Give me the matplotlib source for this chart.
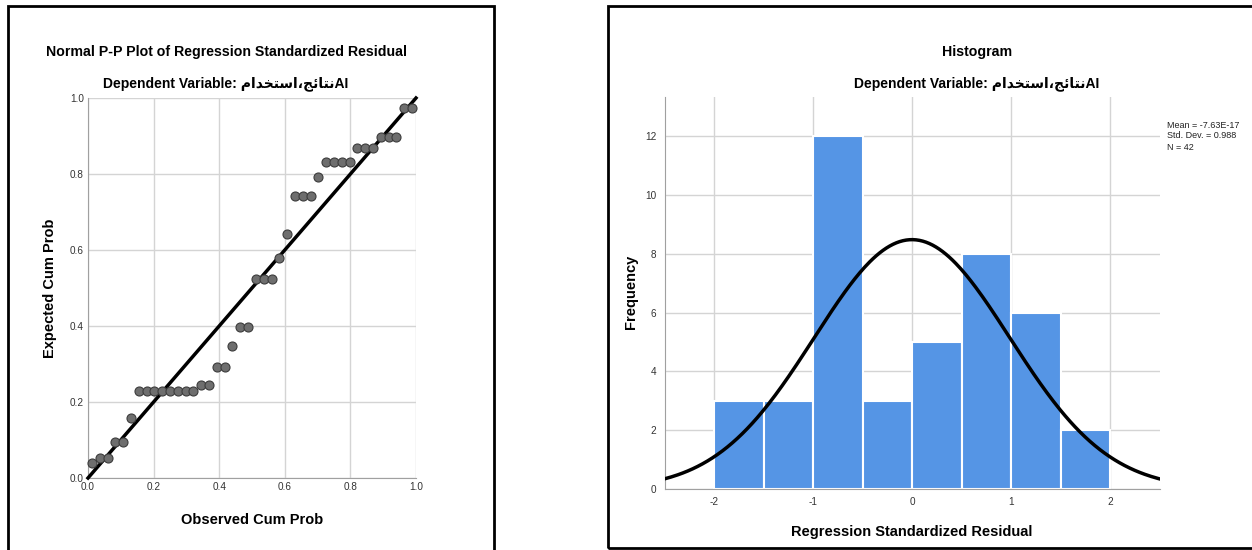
import numpy as np
import matplotlib
matplotlib.use("Agg")
import matplotlib.pyplot as plt
from matplotlib.patches import Rectangle

plt.rcParams['font.family'] = ['Liberation Sans', 'DejaVu Sans']
plt.rcParams['axes.unicode_minus'] = False

# P-P plot points (observed, expected cumulative probability)
observed = [0.012, 0.036, 0.060, 0.083, 0.107, 0.131, 0.155, 0.179, 0.202, 0.226,
            0.250, 0.274, 0.298, 0.321, 0.345, 0.369, 0.393, 0.417, 0.440, 0.464,
            0.488, 0.512, 0.536, 0.560, 0.583, 0.607, 0.631, 0.655, 0.679, 0.702,
            0.726, 0.750, 0.774, 0.798, 0.821, 0.845, 0.869, 0.893, 0.917, 0.940,
            0.964, 0.988]
expected = [0.039, 0.053, 0.053, 0.094, 0.094, 0.159, 0.230, 0.230, 0.230, 0.230,
            0.230, 0.230, 0.230, 0.230, 0.244, 0.244, 0.291, 0.291, 0.347, 0.397,
            0.397, 0.524, 0.524, 0.524, 0.580, 0.642, 0.743, 0.743, 0.743, 0.792,
            0.832, 0.832, 0.832, 0.832, 0.868, 0.868, 0.868, 0.898, 0.898, 0.898,
            0.974, 0.974]

# histogram of standardized residuals
bin_edges = [-2.0, -1.5, -1.0, -0.5, 0.0, 0.5, 1.0, 1.5, 2.0]
counts = [3, 3, 12, 3, 5, 8, 6, 2]
mean_res = -7.63e-17
sd_res = 0.988
n_res = 42

# arabic part of the variable name, glyphs in visual order
ar_word1 = "\uFEE1\uFE8D\uFEAA\uFEA8\uFE98\uFEB3\uFE8D"
ar_word2 = "\uFE9E\uFE8B\uFE8E\uFE98\uFEE7"
subtitle = "Dependent Variable: " + ar_word1 + "\u060C" + ar_word2 + "AI"

W, H = 1252, 550
fig = plt.figure(figsize=(W / 100, H / 100), dpi=100)

grid_col = '#d4d4d4'
spine_col = '#a0a0a0'
tick_col = '#333333'

# frames round the two panels
fig.patches.append(Rectangle((8 / W, -0.05), 486 / W, 1.05 - 6 / H, transform=fig.transFigure,
                             fill=False, edgecolor='black', linewidth=2))
fig.patches.append(Rectangle((608 / W, 1 - 548 / H), 0.6, 542 / H, transform=fig.transFigure,
                             fill=False, edgecolor='black', linewidth=2))

# ---- P-P plot
ax1 = fig.add_axes([88 / W, 1 - 478 / H, 328 / W, 380 / H])
ax1.plot([0, 1], [0, 1], color='black', linewidth=2.5, zorder=3, clip_on=False)
ax1.plot(observed, expected, 'o', markersize=6.5, markerfacecolor='#6e6e6e',
         markeredgecolor='#3c3c3c', markeredgewidth=0.8, zorder=4, clip_on=False)
ax1.set_xlim(0, 1)
ax1.set_ylim(0, 1)
ticks = [0.0, 0.2, 0.4, 0.6, 0.8, 1.0]
ax1.set_xticks(ticks)
ax1.set_yticks(ticks)
ax1.set_xticklabels(['%.1f' % t for t in ticks])
ax1.set_yticklabels(['%.1f' % t for t in ticks])
ax1.grid(True, color=grid_col, linewidth=1)
ax1.set_axisbelow(True)
for s in ['top', 'right']:
    ax1.spines[s].set_visible(False)
for s in ['left', 'bottom']:
    ax1.spines[s].set_color(spine_col)
ax1.tick_params(length=0, labelsize=7.2, colors=tick_col, pad=3)
fig.text(252 / W, 1 - 520 / H, 'Observed Cum Prob', ha='center', va='center',
         fontsize=10.5, fontweight='bold')
fig.text(50 / W, 1 - 288 / H, 'Expected Cum Prob', ha='center', va='center',
         rotation=90, fontsize=10.5, fontweight='bold')

fig.text(226 / W, 1 - 52 / H, 'Normal P-P Plot of Regression Standardized Residual',
         ha='center', va='center', fontsize=10.2, fontweight='bold')
fig.text(226 / W, 1 - 84 / H, subtitle, ha='center', va='center',
         fontsize=10, fontweight='bold')

# ---- histogram
ax2 = fig.add_axes([664.5 / W, 1 - 489 / H, 495 / W, 392 / H])
ax2.hist(bin_edges[:-1], bins=bin_edges, weights=counts, color='#5595e5',
         edgecolor='white', linewidth=1.5, zorder=2)
xs = np.linspace(-2.5, 2.5, 300)
width = bin_edges[1] - bin_edges[0]
curve = n_res * width * np.exp(-0.5 * ((xs - mean_res) / sd_res) ** 2) / (sd_res * np.sqrt(2 * np.pi))
ax2.plot(xs, curve, color='black', linewidth=2.5, zorder=3)
ax2.set_xlim(-2.5, 2.5)
ax2.set_ylim(0, 13.33)
ax2.set_xticks([-2, -1, 0, 1, 2])
ax2.set_yticks([0, 2, 4, 6, 8, 10, 12])
ax2.grid(True, color=grid_col, linewidth=1)
ax2.set_axisbelow(True)
for s in ['top', 'right']:
    ax2.spines[s].set_visible(False)
for s in ['left', 'bottom']:
    ax2.spines[s].set_color(spine_col)
ax2.tick_params(length=0, labelsize=7.2, colors=tick_col, pad=6)
fig.text(912 / W, 1 - 532 / H, 'Regression Standardized Residual', ha='center', va='center',
         fontsize=10.5, fontweight='bold')
fig.text(631 / W, 1 - 292 / H, 'Frequency', ha='center', va='center',
         rotation=90, fontsize=10.5, fontweight='bold')

fig.text(977 / W, 1 - 52 / H, 'Histogram', ha='center', va='center',
         fontsize=10.2, fontweight='bold')
fig.text(977 / W, 1 - 84 / H, subtitle, ha='center', va='center',
         fontsize=10, fontweight='bold')

stats = ['Mean = %.2E' % mean_res, 'Std. Dev. = %.3f' % sd_res, 'N = %d' % n_res]
for i, line in enumerate(stats):
    fig.text(1167 / W, 1 - (125 + 11 * i) / H, line, ha='left', va='center',
             fontsize=6.5, color='#222222')

fig.savefig('out.png', dpi=100)
